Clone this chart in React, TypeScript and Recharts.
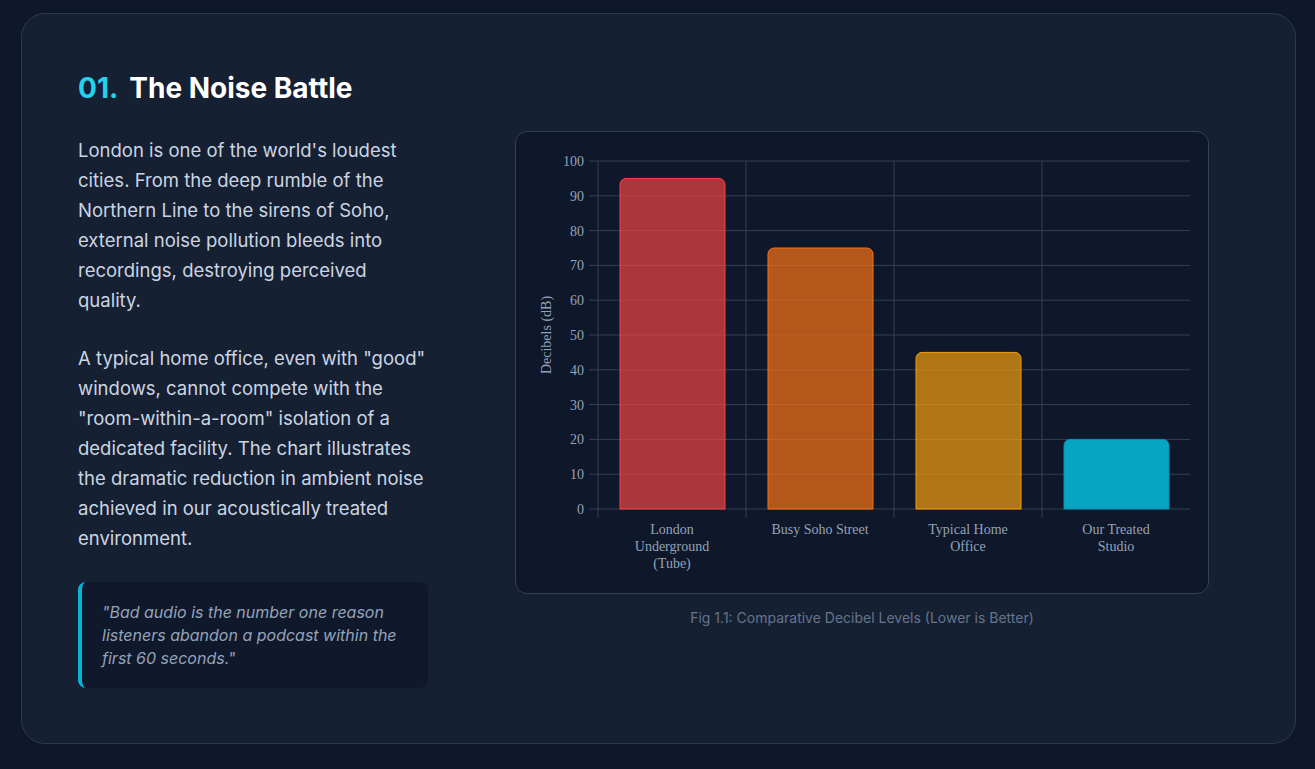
import { Bar, BarChart, CartesianGrid, Cell, XAxis, YAxis } from "recharts";

const categories = ["London Underground (Tube)", "Busy Soho Street", "Typical Home Office", "Our Treated Studio"];
const tickLines = [["London", "Underground", "(Tube)"], ["Busy Soho Street"], ["Typical Home", "Office"], ["Our Treated", "Studio"]];
const decibels = [95, 75, 45, 20];
const yTicks = [0, 10, 20, 30, 40, 50, 60, 70, 80, 90, 100];

const barFills = ["rgba(239,68,68,0.7)", "rgba(249,115,22,0.7)", "rgba(245,158,11,0.7)", "rgba(6,182,212,0.9)"];
const barStrokes = ["#ef4444", "#f97316", "#f59e0b", "#0891b2"];

const data = categories.map((name, i) => ({ name, db: decibels[i] }));

const GRID = "#334155";
const AXIS_TEXT = "#94a3b8";
const CHART_FONT = "'Liberation Serif', serif";
const UI_FONT = "Inter, 'Noto Sans', sans-serif";

function CategoryTick(props: any) {
  const { x, y, index, width, visibleTicksCount } = props;
  const lines = tickLines[index] ?? [props.payload?.value];
  const band = width && visibleTicksCount ? width / visibleTicksCount : 148;
  return (
    <g>
      <line x1={x - band / 2} x2={x - band / 2} y1={y} y2={y + 9} stroke={GRID} />
      <text x={x} y={y + 20} textAnchor="middle" fill={AXIS_TEXT} fontSize={14} fontFamily={CHART_FONT}>
        {lines.map((l: string, i: number) => (
          <tspan key={i} x={x} dy={i === 0 ? "0.35em" : 17}>
            {l}
          </tspan>
        ))}
      </text>
    </g>
  );
}

export default function App() {
  return (
    <div style={{ position: "fixed", left: 0, top: 0, width: 1315, height: 769, background: "#0f172a", fontFamily: UI_FONT }}>
      <div
        style={{
          position: "absolute",
          left: 21,
          top: 13,
          width: 1275,
          height: 731,
          boxSizing: "border-box",
          borderRadius: 24,
          background: "rgba(30,41,59,0.5)",
          border: "1px solid #2c3a4e",
        }}
      />

      <div style={{ position: "absolute", left: 78, top: 71, display: "flex", alignItems: "baseline", fontSize: 28, lineHeight: "34px", fontWeight: 700 }}>
        <span style={{ color: "#22d3ee", marginRight: 11 }}>01.</span>
        <span style={{ color: "#ffffff" }}>The Noise Battle</span>
      </div>

      <div style={{ position: "absolute", left: 78, top: 135, width: 352, color: "#cbd5e1", fontSize: 18.5, lineHeight: "30px" }}>
        <p style={{ margin: 0 }}>
          London is one of the world's loudest cities. From the deep rumble of the Northern Line to the sirens of Soho,
          external noise pollution bleeds into recordings, destroying perceived quality.
        </p>
        <p style={{ margin: "28px 0 0 0" }}>
          A typical home office, even with "good" windows, cannot compete with the "room-within-a-room" isolation of a
          dedicated facility. The chart illustrates the dramatic reduction in ambient noise achieved in our acoustically
          treated environment.
        </p>
      </div>

      <div
        style={{
          position: "absolute",
          left: 78,
          top: 582,
          width: 350,
          height: 106,
          boxSizing: "border-box",
          padding: "19px 20px 18px 20px",
          background: "rgba(15,23,42,0.8)",
          borderLeft: "4px solid #06b6d4",
          borderRadius: 8,
          color: "#94a3b8",
          fontStyle: "italic",
          fontSize: 16,
          lineHeight: "23px",
        }}
      >
        "Bad audio is the number one reason listeners abandon a podcast within the first 60 seconds."
      </div>

      <div
        style={{
          position: "absolute",
          left: 515,
          top: 131,
          width: 694,
          height: 463,
          boxSizing: "border-box",
          background: "#0f172a",
          border: "1px solid #334155",
          borderRadius: 12,
        }}
      >
        <BarChart width={692} height={461} data={data} margin={{ top: 29, right: 18, left: 0, bottom: 0 }}>
          <CartesianGrid
            stroke={GRID}
            verticalCoordinatesGenerator={({ offset }: any) =>
              data.map((_, i) => offset.left + (i * offset.width) / data.length)
            }
          />
          <XAxis
            dataKey="name"
            interval={0}
            axisLine={false}
            tickLine={false}
            tickSize={0}
            tickMargin={0}
            height={84}
            tick={<CategoryTick />}
          />
          <YAxis
            domain={[0, 100]}
            ticks={yTicks}
            width={82}
            axisLine={false}
            tickLine={{ stroke: GRID }}
            tickSize={9}
            tickMargin={5}
            tick={{ fill: AXIS_TEXT, fontSize: 14, fontFamily: CHART_FONT }}
            label={{
              value: "Decibels (dB)",
              angle: -90,
              position: "insideLeft",
              offset: 30,
              style: { textAnchor: "middle", fill: AXIS_TEXT, fontSize: 14, fontFamily: CHART_FONT },
            }}
          />
          <Bar dataKey="db" barSize={105} radius={[6, 6, 0, 0]} isAnimationActive={false}>
            {data.map((_, i) => (
              <Cell key={i} fill={barFills[i]} stroke={barStrokes[i]} strokeWidth={1} />
            ))}
          </Bar>
        </BarChart>
      </div>

      <div style={{ position: "absolute", left: 515, top: 608, width: 694, textAlign: "center", color: "#64748b", fontSize: 14, lineHeight: "20px" }}>
        Fig 1.1: Comparative Decibel Levels (Lower is Better)
      </div>
    </div>
  );
}
